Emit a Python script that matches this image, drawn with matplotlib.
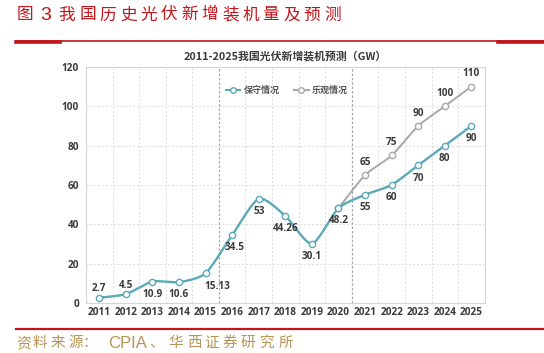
import numpy as np
import matplotlib
matplotlib.use("Agg")
import matplotlib.pyplot as plt
from matplotlib.lines import Line2D

plt.rcParams['font.family'] = ['Noto Sans CJK SC', 'DejaVu Sans']

years = ['2011', '2012', '2013', '2014', '2015', '2016', '2017', '2018',
         '2019', '2020', '2021', '2022', '2023', '2024', '2025']
conservative = [2.7, 4.5, 10.9, 10.6, 15.13, 34.5, 53, 44.26, 30.1, 48.2,
                55, 60, 70, 80, 90]
optimistic_years = ['2020', '2021', '2022', '2023', '2024', '2025']
optimistic = [48.2, 65, 75, 90, 100, 110]
cons_labels = ['2.7', '4.5', '10.9', '10.6', '15.13', '34.5', '53', '44.26',
               '30.1', '48.2', '55', '60', '70', '80', '90']
opt_labels = ['65', '75', '90', '100', '110']
yticks = [0, 20, 40, 60, 80, 100, 120]
fig_title = '我国历史光伏新增装机量及预测'
source_parts = ['资', '料', '来', '源', '：', 'CPIA', '、', '华', '西', '证', '券', '研', '究', '所']

BLUE = '#5aa9b9'
GRAY = '#a8a8a8'
TXT = '#3a3a3a'
RED = '#c0161c'
GOLD = '#b89457'


def smooth(x, y, n=20, tension=0.5):
    x = np.asarray(x, float); y = np.asarray(y, float)
    px = np.concatenate([[2 * x[0] - x[1]], x, [2 * x[-1] - x[-2]]])
    py = np.concatenate([[2 * y[0] - y[1]], y, [2 * y[-1] - y[-2]]])
    xs, ys = [], []
    for i in range(1, len(px) - 2):
        t = np.linspace(0, 1, n, endpoint=False)
        m0x = tension * (px[i + 1] - px[i - 1]); m1x = tension * (px[i + 2] - px[i])
        m0y = tension * (py[i + 1] - py[i - 1]); m1y = tension * (py[i + 2] - py[i])
        h00 = 2 * t**3 - 3 * t**2 + 1; h10 = t**3 - 2 * t**2 + t
        h01 = -2 * t**3 + 3 * t**2; h11 = t**3 - t**2
        xs.append(h00 * px[i] + h10 * m0x + h01 * px[i + 1] + h11 * m1x)
        ys.append(h00 * py[i] + h10 * m0y + h01 * py[i + 1] + h11 * m1y)
    xs.append([x[-1]]); ys.append([y[-1]])
    return np.concatenate(xs), np.concatenate(ys)


fig = plt.figure(figsize=(5.44, 3.53), dpi=100)
ax = fig.add_axes([0.158, 0.1416, 0.733, 0.669])

xc = np.arange(len(years))
xo = np.array([years.index(y) for y in optimistic_years])

sx, sy = smooth(xo, optimistic, tension=0.35)
ax.plot(sx, sy, color=GRAY, lw=1.4, zorder=3)
ax.plot(xo, optimistic, 'o', ms=4.5, mfc='white', mec=GRAY, mew=1.0, zorder=4)

sx, sy = smooth(xc, conservative, tension=0.35)
ax.plot(sx, sy, color=BLUE, lw=1.7, zorder=5)
ax.plot(xc, conservative, 'o', ms=4.5, mfc='white', mec=BLUE, mew=1.0, zorder=6)

fs = 7.2
lab_kw = dict(fontsize=fs, fontweight='bold', color=TXT, family=['Open Sans', 'DejaVu Sans'],
              ha='center', zorder=7)
offs = [(0, 4.5), (0, 4.5), (0, -6.5), (0, -6.5), (0.45, -6.5), (0.1, -6.5),
        (0, -6.5), (0, -6.5), (0, -6.5), (0, -6.5), (0, -6.5), (0, -6.5),
        (0, -6.5), (0, -6.5), (0, -6.5)]
for i, (lab, v) in enumerate(zip(cons_labels, conservative)):
    dx, dy = offs[i]
    ax.text(xc[i] + dx, v + dy, lab, va='center', **lab_kw)
for i, (lab, v) in enumerate(zip(opt_labels, optimistic[1:])):
    ax.text(xo[i + 1], v + 6.5, lab, va='center', **lab_kw)

ax.set_xlim(-0.5, len(years) - 0.5)
ax.set_ylim(0, 120)
ax.set_yticks(yticks)
ax.set_xticks(xc)
ax.set_xticklabels(years)
for lbl in ax.get_xticklabels() + ax.get_yticklabels():
    lbl.set_fontsize(fs)
    lbl.set_fontweight('bold')
    lbl.set_color(TXT)
    lbl.set_family(['Open Sans', 'DejaVu Sans'])
ax.tick_params(length=0, pad=3)
ax.tick_params(axis='y', pad=5)

for y in yticks[1:-1]:
    ax.axhline(y, color='#dcdcdc', lw=0.7, ls=(0, (2, 2)), zorder=1)
for b in np.arange(0.5, len(years) - 0.5, 1.0):
    if b in (4.5, 9.5):
        ax.axvline(b, color='#a8a8a8', lw=0.9, ls=(0, (2, 1.5)), zorder=1)
    else:
        ax.axvline(b, color='#dcdcdc', lw=0.7, ls=(0, (2, 2)), zorder=1)
for sp in ax.spines.values():
    sp.set_color('#d5d5d5')
    sp.set_linewidth(0.8)

handles = [Line2D([], [], color=BLUE, lw=1.5, marker='o', ms=4, mfc='white', mec=BLUE),
           Line2D([], [], color=GRAY, lw=1.5, marker='o', ms=4, mfc='white', mec=GRAY)]
leg = ax.legend(handles, ['保守情况', '乐观情况'], loc='upper left',
                bbox_to_anchor=(0.33, 0.955), ncol=2, frameon=False,
                prop={'size': 6.5, 'weight': 'bold', 'family': ['Noto Sans CJK SC']},
                handlelength=1.6, columnspacing=1.6, handletextpad=0.4)
for t in leg.get_texts():
    t.set_color('#555555')

ax.set_title('2011-2025我国光伏新增装机预测（GW）', fontsize=7.8, fontweight='bold',
             color=TXT, pad=5)

# figure title, spaced characters
ty = 1 - 15 / 353
fig.text(24.5 / 544, ty, '图', color=RED, fontsize=12, va='center', ha='center')
fig.text(45.5 / 544, ty, '3', color=RED, fontsize=14, va='center', ha='center',
         family=['Liberation Sans', 'DejaVu Sans'])
for i, ch in enumerate(fig_title):
    fig.text((67 + 20.4 * i) / 544, ty, ch, color=RED, fontsize=12,
             va='center', ha='center')

# header rules
fig.add_artist(Line2D([16 / 544, 1.0], [1 - 41 / 353] * 2, color=RED, lw=1.2))
fig.add_artist(Line2D([16 / 544, 60 / 544], [1 - 41.5 / 353] * 2, color=RED, lw=2.6))
fig.add_artist(Line2D([498 / 544, 543 / 544], [1 - 41.5 / 353] * 2, color=RED, lw=2.6))
fig.add_artist(Line2D([16 / 544, 1.0], [1 - 329 / 353] * 2, color=RED, lw=1.6))

# source, spaced characters
sy_ = 1 - 343 / 353
src_x = [24, 40, 57.5, 75.5, 90, 127.5, 157, 175.5, 194, 212, 230, 248, 267, 285.5]
for ch, x in zip(source_parts, src_x):
    fam = ['Liberation Sans', 'DejaVu Sans'] if ch == 'CPIA' else ['Noto Sans CJK SC']
    fs_ = 12 if ch == 'CPIA' else 10.5
    fig.text(x / 544, sy_, ch, color=GOLD, fontsize=fs_, va='center', ha='center',
             family=fam)

fig.savefig('out.png', dpi=100)
